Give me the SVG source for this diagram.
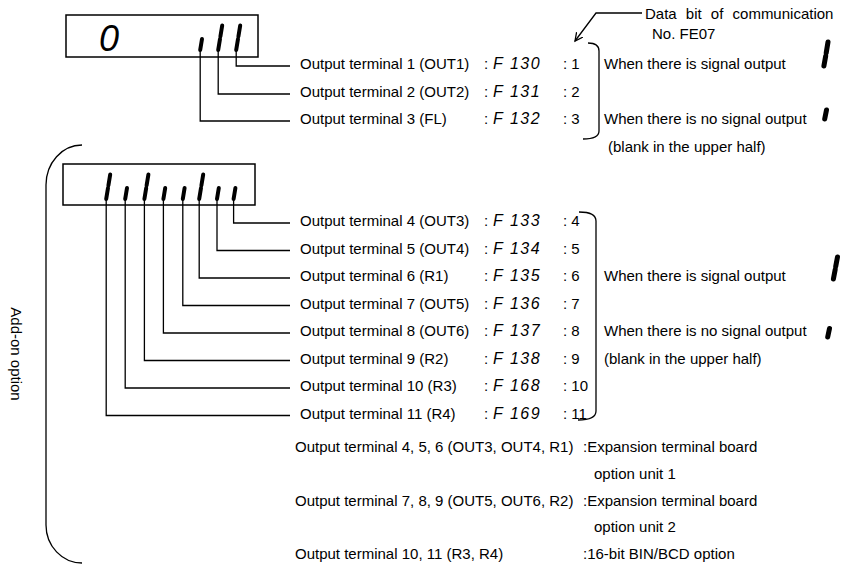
<svg xmlns="http://www.w3.org/2000/svg" width="846" height="568" viewBox="0 0 846 568">
<style>
text{font-family:"Liberation Sans",Arial,sans-serif;font-size:15px;fill:#000}
.code{font-style:italic;font-size:16px;letter-spacing:1.5px}
.big{font-style:italic;font-size:36px}
.ln{fill:none;stroke:#000;stroke-width:1.3}
.box{fill:#fff;stroke:#000;stroke-width:1.5}
.seg{stroke:#000;stroke-width:4;stroke-linecap:round}
.segb{stroke:#000;stroke-width:5;stroke-linecap:round}
</style>
<defs>
<marker id="ah" markerWidth="10" markerHeight="10" refX="8" refY="4" orient="auto" markerUnits="userSpaceOnUse">
<path d="M0,0 L8,4 L0,8" fill="none" stroke="#000" stroke-width="1.3"/>
</marker>
</defs>

<g id="display-main">
<rect class="box" x="66" y="15" width="192" height="42"/>
<text class="big" x="99" y="51">0</text>
<line class="seg" x1="202" y1="39" x2="200.2" y2="50"/>
<line class="seg" x1="222.2" y1="25.5" x2="220.4" y2="36.5"/>
<line class="seg" x1="220" y1="39" x2="218.2" y2="50"/>
<line class="seg" x1="240.2" y1="25.5" x2="238.4" y2="36.5"/>
<line class="seg" x1="238" y1="39" x2="236.2" y2="50"/>
</g>

<g id="display-option">
<rect class="box" x="63" y="164" width="192" height="41"/>
<line class="seg" x1="110.2" y1="174.5" x2="108.4" y2="185.5"/>
<line class="seg" x1="108" y1="188" x2="106.2" y2="199"/>
<line class="seg" x1="127" y1="188" x2="125.2" y2="199"/>
<line class="seg" x1="148.4" y1="174.5" x2="146.6" y2="185.5"/>
<line class="seg" x1="146.2" y1="188" x2="144.4" y2="199"/>
<line class="seg" x1="165.2" y1="188" x2="163.4" y2="199"/>
<line class="seg" x1="184.6" y1="188" x2="182.8" y2="199"/>
<line class="seg" x1="203.2" y1="174.5" x2="201.4" y2="185.5"/>
<line class="seg" x1="201" y1="188" x2="199.2" y2="199"/>
<line class="seg" x1="218.8" y1="188" x2="217" y2="199"/>
<line class="seg" x1="235.4" y1="188" x2="233.6" y2="199"/>
</g>

<g id="connectors">
<path class="ln" d="M236.2 51 V66 H290"/>
<path class="ln" d="M218.2 51 V94 H290"/>
<path class="ln" d="M200.2 51 V121 H290"/>
<path class="ln" d="M233.6 200 V223 H290"/>
<path class="ln" d="M217 200 V250.5 H290"/>
<path class="ln" d="M199.2 200 V278 H290"/>
<path class="ln" d="M182.8 200 V305.5 H290"/>
<path class="ln" d="M163.4 200 V333 H290"/>
<path class="ln" d="M144.4 200 V360.5 H290"/>
<path class="ln" d="M125.2 200 V388 H290"/>
<path class="ln" d="M106.2 200 V415.5 H290"/>
<path class="ln" d="M642 13 H596 L575 41" marker-end="url(#ah)"/>
<path class="ln" d="M588 43 Q599 43 599 51 V131 Q599 139 583 139"/>
<path class="ln" d="M579 212 Q596 212 596 221 V411 Q596 420 578 420"/>
<path class="ln" d="M82 145 A36 40 0 0 0 46 185 V525 A36 38 0 0 0 82 563"/>
</g>

<g id="rows-main">
<text x="300" y="69">Output terminal 1 (OUT1)</text>
<text x="484" y="69">:</text><text class="code" x="493" y="69">F 130</text><text x="563" y="69">: 1</text>
<text x="300" y="97">Output terminal 2 (OUT2)</text>
<text x="484" y="97">:</text><text class="code" x="493" y="97">F 131</text><text x="563" y="97">: 2</text>
<text x="300" y="124">Output terminal 3 (FL)</text>
<text x="484" y="124">:</text><text class="code" x="493" y="124">F 132</text><text x="563" y="124">: 3</text>
</g>

<g id="note-main">
<text x="645" y="19" word-spacing="5">Data bit of communication</text>
<text x="652" y="39">No. FE07</text>
<text x="604" y="69">When there is signal output</text>
<line class="segb" x1="828" y1="42" x2="826.2" y2="53"/>
<line class="segb" x1="825.7" y1="56" x2="823.9" y2="66"/>
<text x="604" y="124">When there is no signal output</text>
<line class="segb" x1="826.5" y1="110" x2="824.7" y2="119"/>
<text x="608" y="152">(blank in the upper half)</text>
</g>

<g id="rows-option">
<text x="300" y="226">Output terminal 4 (OUT3)</text>
<text x="484" y="226">:</text><text class="code" x="493" y="226">F 133</text><text x="563" y="226">: 4</text>
<text x="300" y="253.5">Output terminal 5 (OUT4)</text>
<text x="484" y="253.5">:</text><text class="code" x="493" y="253.5">F 134</text><text x="563" y="253.5">: 5</text>
<text x="300" y="281">Output terminal 6 (R1)</text>
<text x="484" y="281">:</text><text class="code" x="493" y="281">F 135</text><text x="563" y="281">: 6</text>
<text x="300" y="308.5">Output terminal 7 (OUT5)</text>
<text x="484" y="308.5">:</text><text class="code" x="493" y="308.5">F 136</text><text x="563" y="308.5">: 7</text>
<text x="300" y="336">Output terminal 8 (OUT6)</text>
<text x="484" y="336">:</text><text class="code" x="493" y="336">F 137</text><text x="563" y="336">: 8</text>
<text x="300" y="363.5">Output terminal 9 (R2)</text>
<text x="484" y="363.5">:</text><text class="code" x="493" y="363.5">F 138</text><text x="563" y="363.5">: 9</text>
<text x="300" y="391">Output terminal 10 (R3)</text>
<text x="484" y="391">:</text><text class="code" x="493" y="391">F 168</text><text x="563" y="391">: 10</text>
<text x="300" y="418.5">Output terminal 11 (R4)</text>
<text x="484" y="418.5">:</text><text class="code" x="493" y="418.5">F 169</text><text x="563" y="418.5">: 11</text>
</g>

<g id="note-option">
<text x="604" y="281">When there is signal output</text>
<line class="segb" x1="837.5" y1="257" x2="835.7" y2="266.5"/>
<line class="segb" x1="835.2" y1="269.5" x2="833.4" y2="279"/>
<text x="604" y="336">When there is no signal output</text>
<line class="segb" x1="829.5" y1="328.5" x2="827.7" y2="337"/>
<text x="604" y="363.5">(blank in the upper half)</text>
</g>

<g id="addon-label">
<text x="0" y="0" transform="translate(11,354) rotate(90)" text-anchor="middle">Add-on option</text>
</g>

<g id="option-list">
<text x="295" y="452">Output terminal 4, 5, 6 (OUT3, OUT4, R1)</text>
<text x="583" y="452">:Expansion terminal board</text>
<text x="594" y="479">option unit 1</text>
<text x="295" y="506">Output terminal 7, 8, 9 (OUT5, OUT6, R2)</text>
<text x="583" y="506">:Expansion terminal board</text>
<text x="594" y="532">option unit 2</text>
<text x="295" y="559">Output terminal 10, 11 (R3, R4)</text>
<text x="583" y="559">:16-bit BIN/BCD option</text>
</g>
</svg>
